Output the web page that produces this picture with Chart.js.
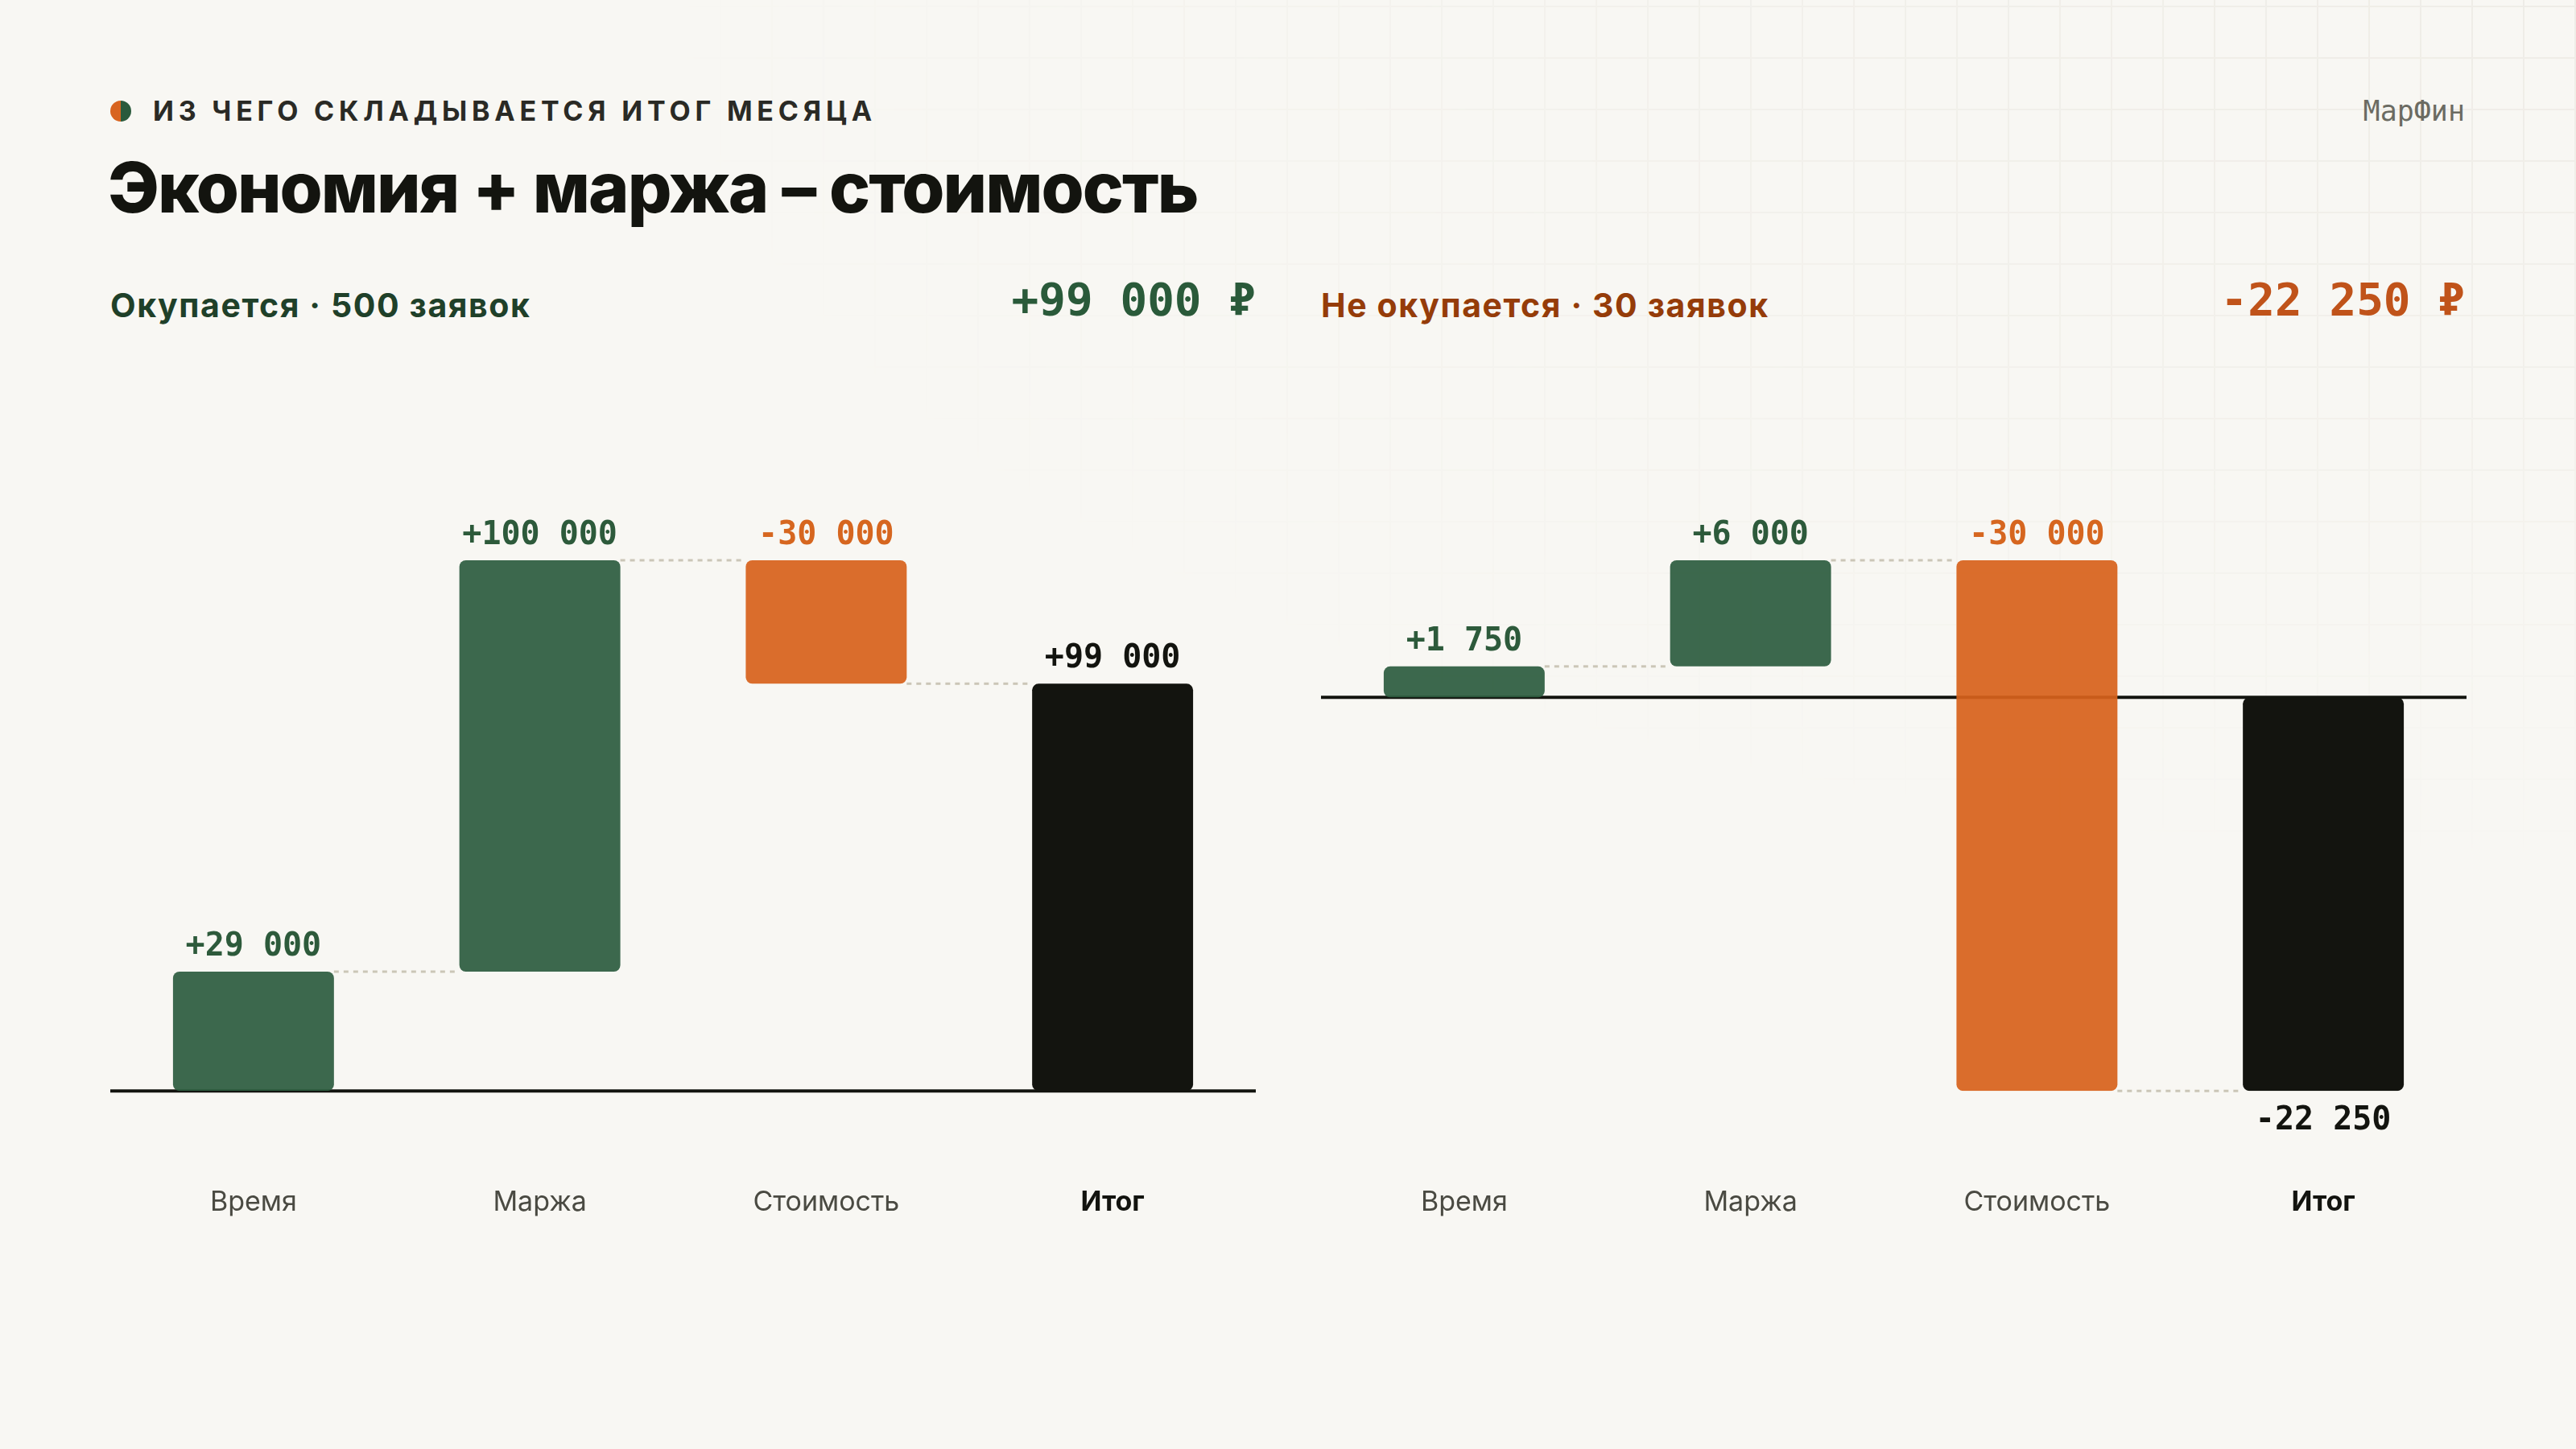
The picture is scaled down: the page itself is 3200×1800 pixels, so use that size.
<!DOCTYPE html>
<html lang="ru">
<head>
  <meta charset="UTF-8">
  <title>Экономия + маржа – стоимость</title>
  <script src="https://cdn.jsdelivr.net/npm/chart.js"></script>
  <style>
    html, body { margin: 0; padding: 0; }
    body {
      width: 3200px; height: 1800px; position: relative; overflow: hidden;
      background: #f8f7f3; font-family: Inter, "Noto Sans", sans-serif; color: #13140f;
    }
    .grid-bg {
      position: absolute; inset: 0;
      background-image:
        linear-gradient(to right, #eeece6 2px, transparent 2px),
        linear-gradient(to bottom, #eeece6 2px, transparent 2px);
      background-size: 64px 64px;
      background-position: -2px 7px;
      -webkit-mask-image: radial-gradient(ellipse 75% 60% at 100% 0%, #000 0%, rgba(0,0,0,0.6) 45%, transparent 100%);
      mask-image: radial-gradient(ellipse 75% 60% at 100% 0%, #000 0%, rgba(0,0,0,0.6) 45%, transparent 100%);
    }
    .abs { position: absolute; white-space: nowrap; }
    .eyebrow {
      left: 137px; top: 116px; font-size: 34px; font-weight: 700; letter-spacing: 5.8px;
      color: #2a2a25; display: flex; align-items: center; line-height: 44px;
    }
    .dot {
      width: 26px; height: 26px; border-radius: 50%; margin-right: 27px;
      background: linear-gradient(to right, #d86420 50%, #2a5a3c 50%);
    }
    .title { left: 134px; top: 178px; font-size: 86px; font-weight: 800; letter-spacing: -2px; line-height: 110px; word-spacing: 1px; }
    .brand { right: 138px; top: 116px; font-family: "DejaVu Sans Mono", monospace; font-size: 35px; color: #6b6b62; line-height: 44px; }
    .sub { top: 354px; font-size: 41px; font-weight: 700; line-height: 50px; letter-spacing: 1.6px; }
    .val { top: 340px; font-family: "DejaVu Sans Mono", monospace; font-size: 56px; font-weight: 700; line-height: 64px; }
    .chart-box { position: absolute; top: 560px; width: 1423px; height: 1080px; }
  </style>
</head>
<body>
  <div class="grid-bg"></div>

  <div class="abs eyebrow"><span class="dot"></span>ИЗ ЧЕГО СКЛАДЫВАЕТСЯ ИТОГ МЕСЯЦА</div>
  <div class="abs title">Экономия + маржа – стоимость</div>
  <div class="abs brand">МарФин</div>

  <div class="abs sub" style="left:137px; color:#1f4029;">Окупается · 500 заявок</div>
  <div class="abs val" id="leftTotal" style="right:1640px; color:#2a5a3a;"></div>
  <div class="abs sub" style="left:1641px; color:#953c09;">Не окупается · 30 заявок</div>
  <div class="abs val" id="rightTotal" style="right:138px; color:#c0531a;"></div>

  <div class="chart-box" style="left:137px;"><canvas id="chartLeft"></canvas></div>
  <div class="chart-box" style="left:1641px;"><canvas id="chartRight"></canvas></div>

  <script>
    const categories = ['Время', 'Маржа', 'Стоимость', 'Итог'];
    // последний элемент — итог месяца
    const paybackValues = [29000, 100000, -30000, 99000];
    const lossValues = [1750, 6000, -30000, -22250];

    const GREEN = 'rgba(45, 92, 63, 0.93)';
    const ORANGE = 'rgba(215, 98, 28, 0.93)';
    const BLACK = '#13140f';
    const GREEN_TEXT = '#2d5a3b';
    const ORANGE_TEXT = '#d6661f';

    Chart.defaults.font.family = 'Inter, "Noto Sans", sans-serif';

    function fmt(v) {
      const s = Math.abs(v).toString().replace(/\B(?=(\d{3})+(?!\d))/g, ' ');
      return (v < 0 ? '-' : '+') + s;
    }

    document.getElementById('leftTotal').textContent = fmt(paybackValues[3]) + ' ₽';
    document.getElementById('rightTotal').textContent = fmt(lossValues[3]) + ' ₽';

    const waterfallPlugin = {
      id: 'waterfall',
      beforeDatasetsDraw(chart) {
        const { ctx, chartArea, scales } = chart;
        const ranges = chart.data.datasets[0].data;
        const bars = chart.getDatasetMeta(0).data;
        ctx.save();
        // нулевая линия
        const y0 = scales.y.getPixelForValue(0);
        ctx.strokeStyle = BLACK;
        ctx.lineWidth = 4;
        ctx.beginPath();
        ctx.moveTo(chartArea.left, y0);
        ctx.lineTo(chartArea.right, y0);
        ctx.stroke();
        // пунктир между столбцами
        ctx.strokeStyle = '#cbc6b7';
        ctx.lineWidth = 3;
        ctx.setLineDash([6, 6]);
        for (let i = 0; i < bars.length - 1; i++) {
          const y = scales.y.getPixelForValue(ranges[i][1]);
          ctx.beginPath();
          ctx.moveTo(bars[i].x + bars[i].width / 2, y);
          ctx.lineTo(bars[i + 1].x - bars[i + 1].width / 2, y);
          ctx.stroke();
        }
        ctx.restore();
      },
      afterDatasetsDraw(chart) {
        const { ctx, scales } = chart;
        const ds = chart.data.datasets[0];
        const bars = chart.getDatasetMeta(0).data;
        ctx.save();
        ctx.font = 'bold 40px "DejaVu Sans Mono", monospace';
        ctx.textAlign = 'center';
        ctx.textBaseline = 'alphabetic';
        ds.values.forEach((v, i) => {
          const isTotal = i === ds.values.length - 1;
          const [a, b] = ds.data[i];
          ctx.fillStyle = isTotal ? BLACK : (v >= 0 ? GREEN_TEXT : ORANGE_TEXT);
          let y;
          if (isTotal && v < 0) {
            y = scales.y.getPixelForValue(Math.min(a, b)) + 48;
          } else {
            y = scales.y.getPixelForValue(Math.max(a, b)) - 20;
          }
          ctx.fillText(fmt(v), bars[i].x, y);
        });
        ctx.restore();
      }
    };

    function makeChart(id, values) {
      const ranges = [];
      let run = 0;
      values.forEach((v, i) => {
        if (i === values.length - 1) {
          ranges.push([0, v]);
        } else {
          ranges.push([run, run + v]);
          run += v;
        }
      });
      const colors = values.map((v, i) => i === values.length - 1 ? BLACK : (v >= 0 ? GREEN : ORANGE));
      const flat = ranges.flat();

      return new Chart(document.getElementById(id), {
        type: 'bar',
        data: {
          labels: categories,
          datasets: [{
            data: ranges,
            values: values,
            backgroundColor: colors,
            borderRadius: 8,
            borderSkipped: false,
            categoryPercentage: 1,
            barPercentage: 0.562
          }]
        },
        options: {
          responsive: true,
          maintainAspectRatio: false,
          animation: false,
          devicePixelRatio: 1,
          layout: { padding: { top: 136, bottom: 16, left: 0, right: 0 } },
          plugins: { legend: { display: false }, tooltip: { enabled: false } },
          scales: {
            x: {
              grid: { display: false },
              border: { display: false },
              ticks: {
                padding: 110,
                color: (c) => c.index === categories.length - 1 ? BLACK : '#4a4a42',
                font: (c) => c.index === categories.length - 1
                  ? { size: 34, weight: 'bold' }
                  : { size: 34, weight: 'normal' }
              }
            },
            y: {
              display: false,
              min: Math.min(0, ...flat),
              max: Math.max(0, ...flat)
            }
          }
        },
        plugins: [waterfallPlugin]
      });
    }

    makeChart('chartLeft', paybackValues);
    makeChart('chartRight', lossValues);
  </script>
</body>
</html>
